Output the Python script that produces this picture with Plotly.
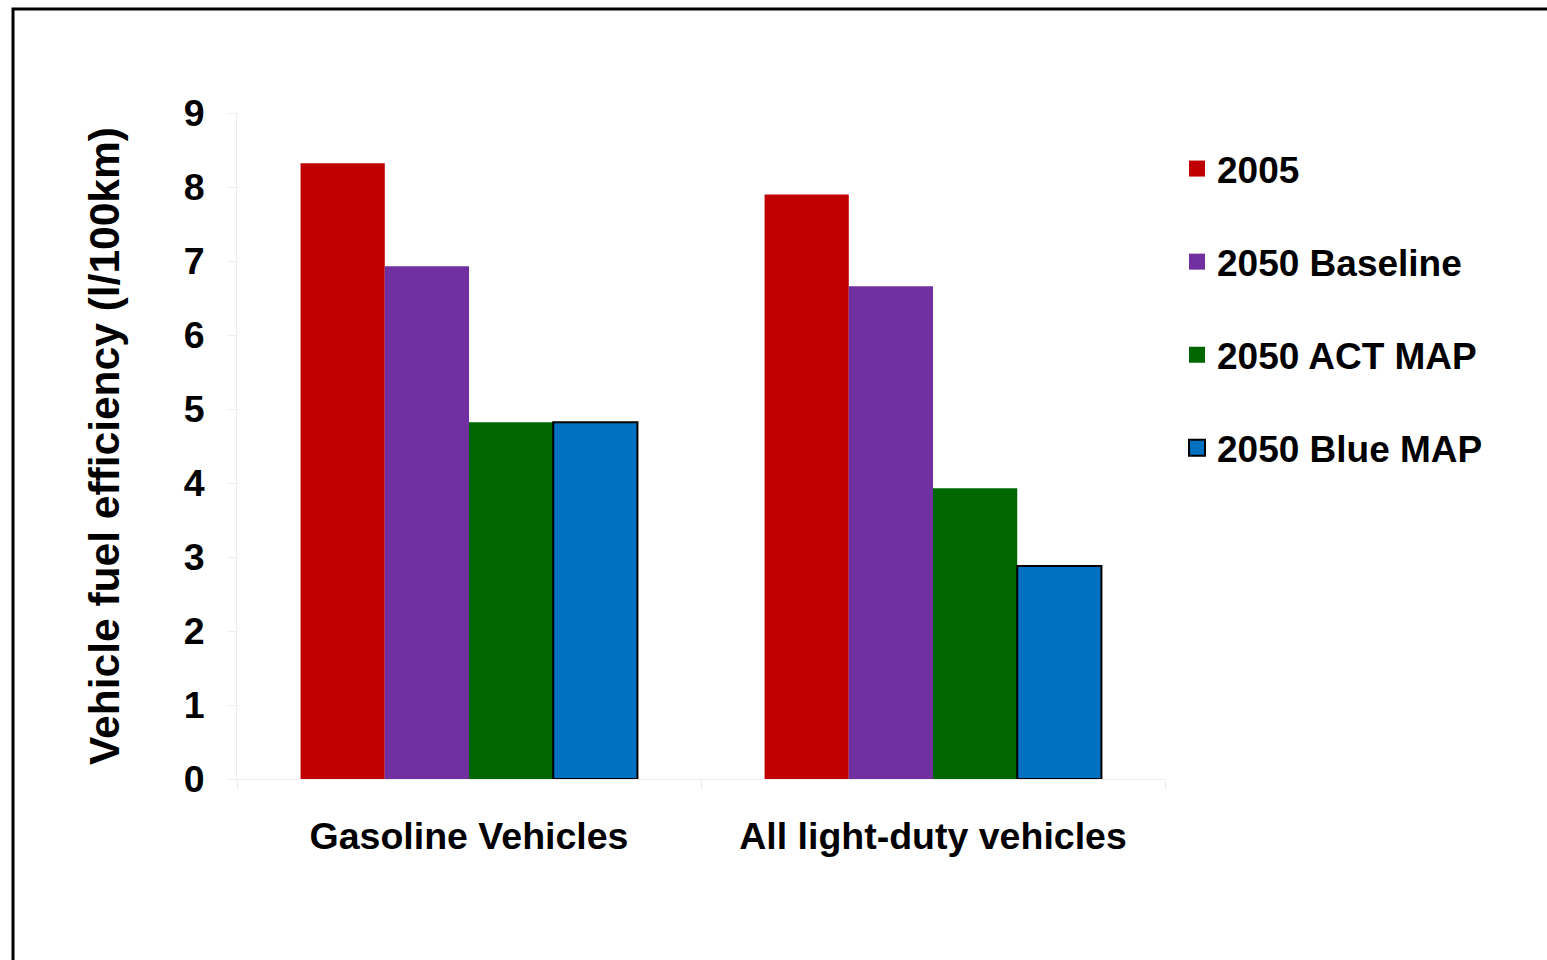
import plotly.graph_objects as go

# Fuel consumption by vehicle category and scenario (l/100km)
categories = ["Gasoline Vehicles", "All light-duty vehicles"]
series_names = ["2005", "2050 Baseline", "2050 ACT MAP", "2050 Blue MAP"]
values_2005 = [8.32, 7.90]
values_2050_baseline = [6.93, 6.66]
values_2050_act_map = [4.82, 3.93]
values_2050_blue_map = [4.82, 2.88]
y_ticks = [0, 1, 2, 3, 4, 5, 6, 7, 8, 9]

series_values = [values_2005, values_2050_baseline, values_2050_act_map, values_2050_blue_map]
colors = ["#C00000", "#7030A0", "#006600", "#0070C0"]
outline_widths = [0, 0, 0, 2]

FONT = "Liberation Sans, Arial, sans-serif"
W, H = 1547, 960
L, R, T, B = 237, 1547 - 1165, 113, 960 - 779

fig = go.Figure()
for name, vals, col, lw in zip(series_names, series_values, colors, outline_widths):
    fig.add_trace(go.Bar(
        x=categories, y=vals, name=name,
        marker=dict(color=col, line=dict(color="black", width=lw)),
        showlegend=False,
    ))
    # legend swatch entry
    fig.add_trace(go.Scatter(
        x=[None], y=[None], mode="markers", name=name,
        legendgroup=name,
        marker=dict(symbol="square", size=16, color=col,
                    line=dict(color="black", width=lw)),
        showlegend=True,
    ))

pw = W - L - R
ph = H - T - B
# outer frame around the whole chart
fig.add_shape(type="rect", xref="paper", yref="paper",
              x0=(13 - L) / pw, x1=(W + 20 - L) / pw,
              y0=(H - B - (H + 20)) / ph, y1=(H - B - 9) / ph,
              line=dict(color="black", width=3), fillcolor="rgba(0,0,0,0)", layer="above")

fig.update_layout(
    width=W, height=H,
    margin=dict(l=L, r=R, t=T, b=B, pad=0),
    paper_bgcolor="white", plot_bgcolor="white",
    barmode="group", bargap=0.274, bargroupgap=0,
    font=dict(family=FONT, size=37, color="black", weight="bold"),
    legend=dict(
        xref="container", yref="container",
        x=1177 / W, y=1 - 138 / H, xanchor="left", yanchor="top",
        traceorder="grouped", tracegroupgap=42,
        font=dict(family=FONT, size=37, color="black", weight="bold"),
        bgcolor="rgba(0,0,0,0)", itemsizing="trace",
    ),
    showlegend=True,
)
fig.update_xaxes(
    type="category", showgrid=False, showline=True, linecolor="#EDEDED", linewidth=1,
    ticks="outside", tickson="boundaries", ticklen=10, tickcolor="#EDEDED",
    ticklabelstandoff=24,
    tickfont=dict(family=FONT, size=37.5, color="black", weight="bold"),
)
fig.update_yaxes(
    range=[0, 9], tickvals=y_ticks, showgrid=False, zeroline=False,
    showline=True, linecolor="#EDEDED", linewidth=1,
    ticks="outside", ticklen=9, tickcolor="#EDEDED", ticklabelstandoff=15,
    tickfont=dict(family=FONT, size=37.5, color="black", weight="bold"),
    title=dict(text="Vehicle fuel efficiency (l/100km)", standoff=50,
               font=dict(family=FONT, size=42.5, color="black", weight="bold")),
)

fig.write_html("out.html")
